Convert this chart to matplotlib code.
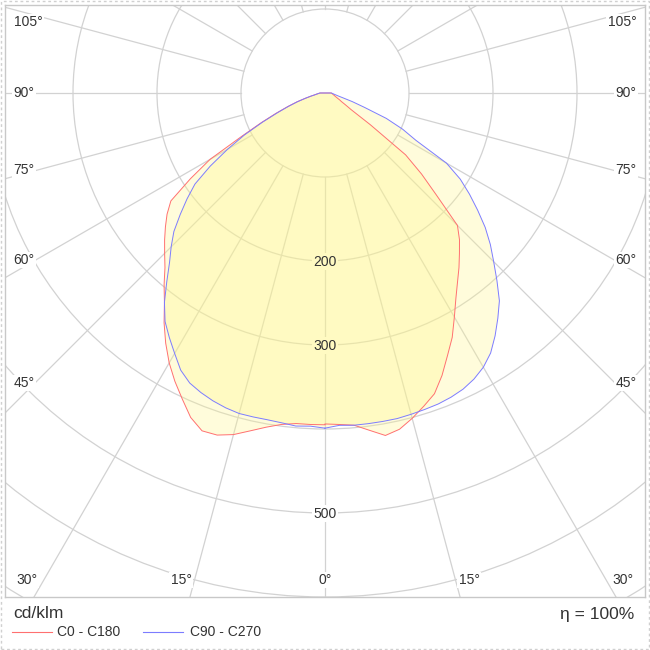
import numpy as np
import matplotlib.pyplot as plt
from matplotlib.patches import Circle, Rectangle
from matplotlib.lines import Line2D

plt.rcParams['font.family'] = ['Liberation Sans', 'DejaVu Sans']

# luminous intensity, cd/klm, gamma 0..90 step 2.5 (0 above 90)
gamma = np.arange(0, 92.5, 2.5)
c0 = [394, 395, 397, 405, 414, 410, 401, 391, 381, 364, 345, 328, 308, 290, 275, 262,
      249, 237, 223, 180, 150, 121, 66, 37, 28, 22, 19, 16, 14, 12.5, 11.5, 10.5, 9.7,
      9, 8.4, 8, 7.5]
c180 = [395, 395, 395, 398, 404, 412, 421, 427, 428, 418, 402, 387, 371, 353, 334, 314,
        298, 282, 270, 259, 248, 237, 224, 190, 158, 112, 84, 63, 47, 35, 24, 17, 12.5,
        10, 8, 7, 6]
c90 = [399, 396, 397, 397, 397, 397, 396, 395, 394, 392, 389, 384, 377, 367, 353, 338,
       323, 303, 284, 267, 249, 229, 210, 191, 167, 122, 102, 79, 50, 34, 22, 16, 13,
       11, 9.6, 8.5, 7.5]
c270 = [399, 397, 398, 396, 395, 395, 395, 393, 390, 386, 381, 372, 358, 345, 332, 314,
        293, 274, 259, 244, 225, 207, 189, 162, 134, 108, 82, 61, 46, 34, 24, 17, 12,
        10, 8, 7, 6]

ring_values = [100, 200, 300, 400, 500, 600, 700, 800, 900]
ring_labels = [200, 300, 500]
angle_step = 15
units = 'cd/klm'
efficiency = 'η = 100%'
names = ['C0 - C180', 'C90 - C270']

red = '#ff7070'
blue = '#7c7cff'
grid = '#d2d2d2'
fill = '#fff68a'
text_c = '#333333'

W = 650
cx, cy = 325, 93          # pole position in pixels
scale = 0.84              # pixels per cd/klm


def fx(x):
    return x / W


def fy(y):
    return 1 - y / W


def outline(right, left):
    g = np.radians(gamma)
    right = np.asarray(right, float)
    left = np.asarray(left, float)
    xr, yr = right * np.sin(g), -right * np.cos(g)
    xl, yl = -left * np.sin(g), -left * np.cos(g)
    x = np.concatenate([xr, [0], xl[::-1]])
    y = np.concatenate([yr, [0], yl[::-1]])
    return x, y


fig = plt.figure(figsize=(6.5, 6.5), dpi=100)
ax = fig.add_axes([fx(5), fy(597), 640 / W, 592 / W])
ax.set_xlim((5 - cx) / scale, (645 - cx) / scale)
ax.set_ylim((cy - 597) / scale, (cy - 5) / scale)
ax.set_xticks([])
ax.set_yticks([])
for s in ax.spines.values():
    s.set_color('#c8c8c8')
    s.set_linewidth(1)

# polar grid
for r in ring_values:
    ax.add_patch(Circle((0, 0), r, fill=False, ec=grid, lw=0.9, zorder=1))
for a in np.radians(np.arange(0, 360, angle_step)):
    ax.plot([ring_values[0] * np.sin(a), 1000 * np.sin(a)],
            [-ring_values[0] * np.cos(a), -1000 * np.cos(a)],
            color=grid, lw=0.9, zorder=1)

# ring labels: white patch under the fill, text on top
for v in ring_labels:
    ax.text(0, -v - 1, str(v), ha='center', va='center', fontsize=10,
            color='none', zorder=2,
            bbox=dict(facecolor='white', edgecolor='none', pad=1))
    ax.text(0, -v - 1, str(v), ha='center', va='center', fontsize=10,
            color=text_c, zorder=5)

# curves
x1, y1 = outline(c0, c180)
x2, y2 = outline(c90, c270)
ax.fill(x1, y1, color=fill, alpha=0.3, lw=0, zorder=3)
ax.fill(x2, y2, color=fill, alpha=0.3, lw=0, zorder=3)
ax.plot(x1, y1, color=red, lw=0.7, zorder=4)
ax.plot(x2, y2, color=blue, lw=0.7, zorder=4)

# angle labels around the frame
side = [(105, 22, 28), (90, 93, 24), (75, 170, 24), (60, 260, 24), (45, 383, 24)]
for ang, y, x in side:
    for xx in (x, W - x):
        fig.text(fx(xx), fy(y), f'{ang}°', ha='center', va='center', fontsize=10,
                 color=text_c,
                 bbox=dict(facecolor='white', edgecolor='none', pad=1))
bottom = [(30, 27), (15, 181), (0, 325), (15, 469), (30, 623)]
for ang, x in bottom:
    fig.text(fx(x), fy(580), f'{ang}°', ha='center', va='center', fontsize=10,
             color=text_c,
             bbox=dict(facecolor='white', edgecolor='none', pad=1))

# footer
fig.text(fx(13), fy(614), units, ha='left', va='center', fontsize=12.5, color=text_c)
fig.text(fx(634), fy(614), efficiency, ha='right', va='center', fontsize=12.5, color=text_c)
fig.add_artist(Line2D([fx(12), fx(52)], [fy(632), fy(632)], color=red, lw=0.8))
fig.text(fx(57), fy(632), names[0], ha='left', va='center', fontsize=10, color=text_c)
fig.add_artist(Line2D([fx(143), fx(183)], [fy(632), fy(632)], color=blue, lw=0.8))
fig.text(fx(190), fy(632), names[1], ha='left', va='center', fontsize=10, color=text_c)

fig.add_artist(Rectangle((fx(1), fy(649)), 648 / W, 648 / W, transform=fig.transFigure,
                         fill=False, ec='#d0d0d0', lw=1, ls=(0, (2, 2))))

fig.savefig('out.png', dpi=100)
